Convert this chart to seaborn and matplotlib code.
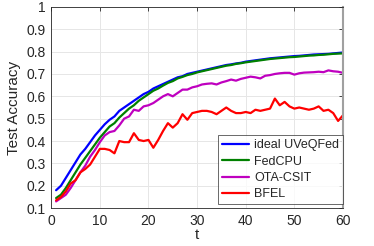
import numpy as np
import pandas as pd
import matplotlib
matplotlib.use("Agg")
import matplotlib.pyplot as plt
import seaborn as sns

t = list(range(1, 61))
ideal = [0.18, 0.20, 0.235, 0.27, 0.305, 0.34, 0.365, 0.395, 0.425, 0.45,
         0.475, 0.495, 0.51, 0.535, 0.55, 0.565, 0.58, 0.595, 0.61, 0.62,
         0.635, 0.645, 0.655, 0.665, 0.675, 0.685, 0.69, 0.70, 0.705, 0.71,
         0.715, 0.72, 0.725, 0.73, 0.735, 0.74, 0.743, 0.747, 0.75, 0.755,
         0.758, 0.761, 0.764, 0.767, 0.77, 0.772, 0.774, 0.776, 0.778, 0.78,
         0.781, 0.783, 0.785, 0.787, 0.788, 0.789, 0.79, 0.792, 0.794, 0.796]
fedcpu = [0.145, 0.16, 0.19, 0.225, 0.26, 0.295, 0.325, 0.355, 0.385, 0.415,
          0.44, 0.465, 0.48, 0.505, 0.525, 0.545, 0.56, 0.58, 0.595, 0.61,
          0.625, 0.635, 0.648, 0.66, 0.668, 0.68, 0.687, 0.695, 0.70, 0.707,
          0.712, 0.717, 0.722, 0.727, 0.732, 0.737, 0.74, 0.745, 0.748, 0.752,
          0.755, 0.758, 0.761, 0.764, 0.767, 0.769, 0.771, 0.773, 0.775, 0.776,
          0.778, 0.78, 0.782, 0.783, 0.785, 0.786, 0.788, 0.79, 0.791, 0.792]
ota = [0.13, 0.145, 0.16, 0.19, 0.225, 0.26, 0.29, 0.33, 0.36, 0.395,
       0.425, 0.44, 0.445, 0.47, 0.5, 0.51, 0.54, 0.535, 0.555, 0.56,
       0.57, 0.585, 0.6, 0.61, 0.6, 0.615, 0.63, 0.63, 0.64, 0.645,
       0.653, 0.656, 0.658, 0.653, 0.662, 0.668, 0.675, 0.67, 0.678, 0.683,
       0.688, 0.685, 0.68, 0.692, 0.695, 0.7, 0.703, 0.705, 0.705, 0.697,
       0.703, 0.706, 0.707, 0.708, 0.71, 0.708, 0.716, 0.712, 0.71, 0.705]
bfel = [0.135, 0.15, 0.175, 0.21, 0.225, 0.26, 0.275, 0.295, 0.33, 0.365,
        0.365, 0.36, 0.345, 0.40, 0.395, 0.395, 0.435, 0.405, 0.40, 0.405,
        0.37, 0.405, 0.445, 0.48, 0.46, 0.48, 0.52, 0.495, 0.525, 0.53,
        0.535, 0.535, 0.53, 0.52, 0.535, 0.55, 0.535, 0.525, 0.525, 0.53,
        0.525, 0.54, 0.535, 0.54, 0.545, 0.59, 0.56, 0.575, 0.555, 0.545,
        0.55, 0.545, 0.54, 0.545, 0.555, 0.535, 0.54, 0.525, 0.49, 0.515]

names = ["ideal UVeQFed", "FedCPU", "OTA-CSIT", "BFEL"]
series = [ideal, fedcpu, ota, bfel]
colors = ["#0000ff", "#008000", "#bf00bf", "#ff0000"]

df = pd.DataFrame({
    "t": t * 4,
    "acc": sum(series, []),
    "method": sum([[n] * len(t) for n in names], []),
})

sns.set_style("white")
plt.rcParams["font.family"] = ["Liberation Sans", "DejaVu Sans"]

fig = plt.figure(figsize=(3.74, 2.46), dpi=100)
ax = fig.add_axes([0.137, 0.154, 0.78, 0.818])
sns.lineplot(data=df, x="t", y="acc", hue="method", hue_order=names,
             palette=colors, linewidth=1.6, ax=ax)

ax.set_xlim(0, 60)
ax.set_ylim(0.1, 1.0)
ax.set_xticks([0, 10, 20, 30, 40, 50, 60])
ax.set_yticks([0.1, 0.2, 0.3, 0.4, 0.5, 0.6, 0.7, 0.8, 0.9, 1.0])
ax.set_yticklabels(["0.1", "0.2", "0.3", "0.4", "0.5", "0.6", "0.7", "0.8", "0.9", "1"])
ax.grid(True, color="#e6e6e6", linewidth=0.7)
ax.set_axisbelow(True)
ax.tick_params(direction="in", length=3, width=0.6, colors="#262626",
               labelsize=10, top=True, right=True, pad=4)
for s in ax.spines.values():
    s.set_color("#262626")
    s.set_linewidth(0.6)
ax.spines["right"].set_color("#a0a0a0")
ax.spines["right"].set_linewidth(1.5)
ax.set_xlabel("t", fontsize=11, color="#262626", labelpad=0)
ax.set_ylabel("Test Accuracy", fontsize=11, color="#262626", labelpad=4)

leg = ax.legend(loc="lower right", bbox_to_anchor=(1.0, 0.02), fontsize=9,
                frameon=True, fancybox=False,
                borderpad=0.3, labelspacing=0.35, handlelength=2.2,
                handletextpad=0.4, borderaxespad=0.0)
leg.get_frame().set_edgecolor("#262626")
leg.get_frame().set_linewidth(0.6)
for line in leg.get_lines():
    line.set_linewidth(1.6)

fig.savefig("out.png", dpi=100)
